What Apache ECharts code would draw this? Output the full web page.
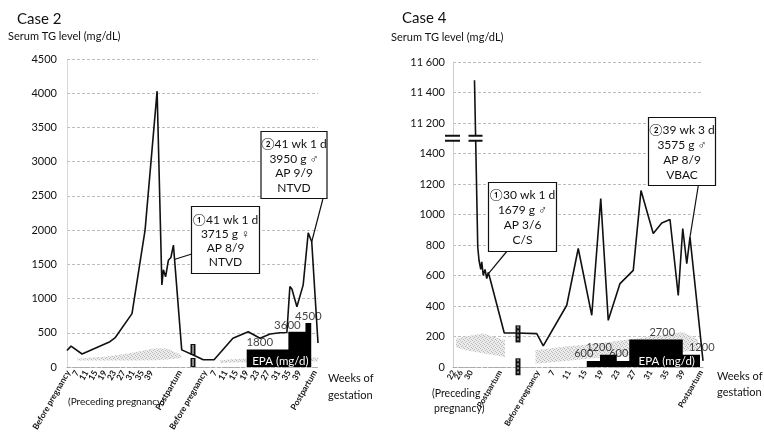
<!DOCTYPE html>
<html>
<head>
<meta charset="utf-8">
<title>Serum TG level - Case 2 / Case 4</title>
<script src="https://cdn.jsdelivr.net/npm/echarts@6/dist/echarts.min.js"></script>
<style>
  html, body { margin: 0; padding: 0; background: #fff; }
  #chart { width: 764px; height: 443px; }
</style>
</head>
<body>
<div id="chart"></div>
<script>
// ---------- Case 2 (left) : x = position on the visit axis (0..100) ----------
var case2X  = [0, 1.6, 6.0, 17.1, 19.1, 25.9, 31.1, 35.9, 37.8, 38.4, 39.3, 40.4, 41.4, 42.4, 45.7,
               50.3, 54.3, 58.6, 66.1, 72.2, 76.9, 80.9, 84.9, 87.6, 88.8, 89.6, 91.6, 94.1, 96.1, 97.5, 100];
var case2TG = [240, 305, 190, 370, 424, 780, 2000, 4030, 1200, 1420, 1320, 1560, 1600, 1780, 250,
               175, 105, 105, 420, 516, 420, 482, 500, 505, 1175, 1140, 880, 1200, 1960, 1830, 350];
var case2TickPos = [0.5, 4.0, 7.7, 11.4, 15.1, 18.8, 22.5, 26.2, 29.9, 33.6, 45,
                    55, 59, 63.2, 67.4, 71.6, 75.8, 80, 84.2, 88.4, 92.6, 98.8];
var case2TickLabels = ['Before pregnancy', '7', '11', '15', '19', '23', '27', '31', '35', '39', 'Postpartum',
                       'Before pregnancy', '7', '11', '15', '19', '23', '27', '31', '35', '39', 'Postpartum'];
// reference range band (lower / upper)
var case2BandX    = [4, 15, 25, 35, 40, 45.5];
var case2BandLow  = [95, 95, 95, 100, 110, 130];
var case2BandHigh = [125, 150, 200, 275, 270, 180];
var case2Band2X    = [61, 66, 72, 80, 90, 100];
var case2Band2Low  = [60, 65, 70, 75, 80, 80];
var case2Band2High = [100, 115, 125, 135, 140, 140];
// EPA dose (mg/d) steps
var case2EpaStart = [71.6, 88.2, 95.0];
var case2EpaEnd = 97.3;
var case2Epa = [1800, 3600, 4500];

// ---------- Case 4 (right) ----------
var case4X  = [8.6, 9.9, 10.4, 11.1, 11.5, 12.1, 12.8, 13.5, 14.1, 14.8, 20.5, 25.5, 33.5, 36.1, 45.5,
               50.1, 55.5, 59.1, 62.1, 66.8, 72.1, 75.2, 80.1, 83.5, 86.8, 90.1, 91.9, 93.5, 94.8, 100];
var case4TG = [11480, 787, 700, 640, 690, 600, 640, 580, 620, 580, 223, 223, 219, 138, 405,
               777, 339, 1104, 306, 547, 634, 1157, 875, 944, 967, 470, 908, 678, 852, 40];
var case4TickPos = [0.3, 3.2, 7.2, 18.8, 34, 40, 46.4, 52.8, 59.4, 66, 72.4, 79, 85.6, 92, 99.2];
var case4TickLabels = ['22', '26', '30', 'Postpartum', 'Before pregnancy', '7', '11', '15', '19',
                       '23', '27', '31', '35', '39', 'Postpartum'];
var case4BandX    = [1.2, 5, 12, 20.8];
var case4BandLow  = [130, 110, 90, 66];
var case4BandHigh = [186, 200, 220, 175];
var case4Band2X    = [33, 45, 55, 75, 92, 98];
var case4Band2Low  = [22, 40, 55, 80, 100, 110];
var case4Band2High = [110, 135, 150, 190, 230, 180];
var case4EpaStart = [53.5, 58.8, 65.5, 70.5, 91.9];
var case4EpaEnd = 98.8;
var case4Epa = [600, 1200, 600, 2700, 1200];

// broken TG axis of case 4: 1500..11100 is cut out
var BREAK_OFFSET = 9600;
function cutTG(v) { return v > 1500 ? v - BREAK_OFFSET : v; }

var FONT = 'Lato, "Open Sans", sans-serif';

// speckled grey fill for the reference band
var speckle = document.createElement('canvas');
speckle.width = speckle.height = 4;
(function () {
  var c = speckle.getContext('2d');
  c.fillStyle = '#e8e8e8'; c.fillRect(0, 0, 4, 4);
  c.fillStyle = '#b0b0b0';
  c.fillRect(0, 0, 1, 1); c.fillRect(2, 1, 1, 1); c.fillRect(1, 2, 1, 1); c.fillRect(3, 3, 1, 1);
})();

function pairs(xs, ys, f) {
  return xs.map(function (x, i) { return [x, f ? f(ys[i]) : ys[i]]; });
}
function stepData(starts, end, vals) {
  var d = starts.map(function (s, i) { return [s, vals[i]]; });
  d.push([end, vals[vals.length - 1]]);
  return d;
}
function bandSeries(gridIdx, xs, lo, hi) {
  return {
    type: 'custom',
    xAxisIndex: gridIdx, yAxisIndex: gridIdx * 2,
    data: xs.map(function (x, i) { return [x, lo[i], hi[i]]; }),
    z: 1, silent: true,
    renderItem: function (params, api) {
      if (params.dataIndex !== 0) return null;
      var pts = [];
      for (var i = 0; i < xs.length; i++) pts.push(api.coord([xs[i], hi[i]]));
      for (var j = xs.length - 1; j >= 0; j--) pts.push(api.coord([xs[j], lo[j]]));
      return { type: 'polygon', shape: { points: pts },
               style: { fill: { image: speckle, repeat: 'repeat' }, stroke: null, opacity: 0.85 } };
    }
  };
}
function epaLabelData(starts, vals, dx) {
  return starts.map(function (s, i) {
    return { value: [s, vals[i]], label: { offset: [dx[i], -7] } };
  });
}

var myChart = echarts.init(document.getElementById('chart'));

function xAxisFor(gridIdx, pos, labels, fontSize) {
  // blank labels at both ends keep echarts from dropping the real first/last ones
  var all = [0].concat(pos, [100]);
  var names = [''].concat(labels, ['']);
  return {
    type: 'value', gridIndex: gridIdx, min: 0, max: 100,
    axisLine: { show: true, lineStyle: { color: '#aaa', type: 'dashed', width: 1 } },
    axisTick: { show: false },
    splitLine: { show: false },
    axisLabel: {
      customValues: all, rotate: 60, margin: 4, fontSize: fontSize, fontWeight: 'bold',
      color: '#111', fontFamily: FONT, hideOverlap: false,
      formatter: function (v) {
        var best = 0;
        for (var i = 1; i < all.length; i++) if (Math.abs(all[i] - v) < Math.abs(all[best] - v)) best = i;
        return names[best];
      }
    }
  };
}
var splitStyle = { show: true, lineStyle: { color: '#bdbdbd', type: [3, 2], width: 1 } };
var yLineStyle = { show: true, lineStyle: { color: '#cfcfcf', type: 'dotted', width: 1 } };

var option = {
  animation: false,
  grid: [
    { left: 67, right: 446, top: 59, bottom: 76 },
    { left: 453, right: 61, top: 62, bottom: 76 }
  ],
  xAxis: [
    xAxisFor(0, case2TickPos, case2TickLabels, 8.5),
    xAxisFor(1, case4TickPos, case4TickLabels, 8)
  ],
  yAxis: [
    { type: 'value', gridIndex: 0, min: 0, max: 4500, interval: 500,
      axisLine: yLineStyle, axisTick: { show: false }, splitLine: splitStyle,
      axisLabel: { margin: 10, fontSize: 11, color: '#111', fontFamily: FONT,
        formatter: function (v) { return String(v); } } },
    { type: 'value', gridIndex: 0, min: 0, max: 4500 * 7, show: false, splitLine: { show: false } },
    { type: 'value', gridIndex: 1, min: 0, max: 2000, interval: 200,
      axisLine: { show: true, lineStyle: { color: '#cfcfcf', width: 1 } },
      axisTick: { show: false }, splitLine: splitStyle,
      axisLabel: { margin: 8, fontSize: 11, color: '#111', fontFamily: FONT,
        formatter: function (v) {
          if (v <= 1400) return String(v);
          if (v < 1600) return '';
          return String(v + BREAK_OFFSET).replace(/(\d)(?=\d{3}$)/, '$1 ');
        } } },
    { type: 'value', gridIndex: 1, min: 0, max: 2000 * 15, show: false, splitLine: { show: false } }
  ],
  series: [
    bandSeries(0, case2BandX, case2BandLow, case2BandHigh),
    bandSeries(0, case2Band2X, case2Band2Low, case2Band2High),
    bandSeries(1, case4BandX, case4BandLow, case4BandHigh),
    bandSeries(1, case4Band2X, case4Band2Low, case4Band2High),
    { name: 'EPA case 2', type: 'line', xAxisIndex: 0, yAxisIndex: 1, step: 'end', symbol: 'none',
      data: stepData(case2EpaStart, case2EpaEnd, case2Epa), z: 3,
      lineStyle: { width: 0 }, areaStyle: { color: '#000', opacity: 1 } },
    { name: 'EPA case 4', type: 'line', xAxisIndex: 1, yAxisIndex: 3, step: 'end', symbol: 'none',
      data: stepData(case4EpaStart, case4EpaEnd, case4Epa), z: 3,
      lineStyle: { width: 0 }, areaStyle: { color: '#000', opacity: 1 } },
    { name: 'EPA labels 2', type: 'scatter', xAxisIndex: 0, yAxisIndex: 1, symbolSize: 0, z: 4,
      data: epaLabelData(case2EpaStart, case2Epa, [13, -1, 3]),
      label: { show: true, position: 'inside', fontSize: 11.5, color: '#111', fontFamily: FONT,
               formatter: function (p) { return p.value[1]; } } },
    { name: 'EPA labels 4', type: 'scatter', xAxisIndex: 1, yAxisIndex: 3, symbolSize: 0, z: 4,
      data: epaLabelData(case4EpaStart, case4Epa, [-3, -1, 2, 33, 19]),
      label: { show: true, position: 'inside', fontSize: 11, color: '#111', fontFamily: FONT,
               formatter: function (p) { return p.value[1]; } } },
    { name: 'TG case 2', type: 'line', xAxisIndex: 0, yAxisIndex: 0, symbol: 'none', z: 5,
      data: pairs(case2X, case2TG), lineStyle: { color: '#111', width: 1.6 } },
    { name: 'TG case 4', type: 'line', xAxisIndex: 1, yAxisIndex: 2, symbol: 'none', z: 5,
      data: pairs(case4X, case4TG, cutTG), lineStyle: { color: '#111', width: 1.6 } }
  ]
};
myChart.setOption(option);

// ---------- texts, annotation boxes, break marks ----------
function px(grid, x, y, epa) {
  return myChart.convertToPixel({ xAxisIndex: grid, yAxisIndex: grid * 2 + (epa ? 1 : 0) }, [x, y]);
}
function txt(x, y, s, size, extra) {
  var st = { x: x, y: y, text: s, fontSize: size, fontFamily: FONT, fill: '#111',
             textVerticalAlign: 'middle' };
  for (var k in extra) st[k] = extra[k];
  return { type: 'text', style: st, z: 20 };
}
function box(x, y, w, h, lines, lh, target, from) {
  var tp = px(target[0], target[1], target[2]);
  return [
    { type: 'line', shape: { x1: from[0], y1: from[1], x2: tp[0], y2: tp[1] },
      style: { stroke: '#111', lineWidth: 1.2 }, z: 18 },
    { type: 'rect', shape: { x: x, y: y, width: w, height: h },
      style: { fill: '#fff', stroke: '#111', lineWidth: 1.2 }, z: 19 },
    { type: 'text', z: 20, style: { x: x + w / 2, y: y + h / 2 + 1, text: lines.join('\n'),
      fontSize: 12, lineHeight: lh, fontFamily: FONT, fill: '#111',
      textAlign: 'center', textVerticalAlign: 'middle' } }
  ];
}
function vBreak(grid, x, lo, hi, dashed) {
  var a = px(grid, x, hi), b = px(grid, x, lo);
  var inner = { stroke: '#fff', lineWidth: 1 };
  if (dashed) inner.lineDash = [2, 2];
  return [
    { type: 'rect', z: 15, shape: { x: a[0] - 2.5, y: a[1], width: 5, height: b[1] - a[1] },
      style: { fill: '#111' } },
    { type: 'line', z: 16, shape: { x1: a[0], y1: a[1] + 1, x2: a[0], y2: b[1] - 1 }, style: inner }
  ];
}
function hBreak(cx, cy, w) {
  return [
    { type: 'rect', z: 15, shape: { x: cx - w / 2, y: cy - 2.5, width: w, height: 5 },
      style: { fill: '#fff' } },
    { type: 'line', z: 16, shape: { x1: cx - w / 2, y1: cy - 2.5, x2: cx + w / 2, y2: cy - 2.5 },
      style: { stroke: '#111', lineWidth: 2 } },
    { type: 'line', z: 16, shape: { x1: cx - w / 2, y1: cy + 2.5, x2: cx + w / 2, y2: cy + 2.5 },
      style: { stroke: '#111', lineWidth: 2 } }
  ];
}

var g = [];
g.push(txt(17, 19, 'Case 2', 15));
g.push(txt(8, 36, 'Serum TG level (mg/dL)', 11));
g.push(txt(402, 18, 'Case 4', 15));
g.push(txt(391, 37, 'Serum TG level (mg/dL)', 11));
g.push(txt(328, 378, 'Weeks of', 11));
g.push(txt(328, 395, 'gestation', 11));
g.push(txt(717, 376, 'Weeks of', 11));
g.push(txt(717, 392, 'gestation', 11));
g.push(txt(68, 402, '(Preceding pregnancy)', 10));
g.push(txt(432, 394, '(Preceding', 10.5));
g.push(txt(434, 409, 'pregnancy)', 10.5));

// white "EPA (mg/d)" captions on the dose bars
var e2 = px(0, case2EpaStart[1], 0);
g.push(txt(e2[0] - 8, e2[1] - 6, 'EPA (mg/d)', 11.5, { fill: '#fff', textAlign: 'center' }));
var e4 = px(1, case4EpaStart[4], 0);
g.push(txt(e4[0] - 16, e4[1] - 6, 'EPA (mg/d)', 11.5, { fill: '#fff', textAlign: 'center' }));

g = g.concat(box(191.5, 206.5, 68, 67, ['\u246041 wk 1 d', '3715 g \u2640', 'AP 8/9', 'NTVD'], 14,
                 [0, 42.7, 1570], [191.7, 254]));
g = g.concat(box(261, 131.5, 66, 67, ['\u246141 wk 1 d', '3950 g \u2642', 'AP 9/9', 'NTVD'], 14.5,
                 [0, 97.5, 1830], [323, 198.5]));
g = g.concat(box(488.5, 182.5, 68, 69, ['\u246030 wk 1 d', '1679 g \u2642', 'AP 3/6', 'C/S'], 15,
                 [1, 14.1, 610], [506.7, 251.5]));
g = g.concat(box(648.5, 117.5, 67, 68, ['\u246139 wk 3 d', '3575 g \u2642', 'AP 8/9', 'VBAC'], 15,
                 [1, 94.8, 852], [698.3, 185.5]));

g = g.concat(vBreak(0, 50.2, 175, 336, false));
g = g.concat(vBreak(0, 50.2, 0, 132, false));
g = g.concat(vBreak(1, 26, 161, 273, true));
g = g.concat(vBreak(1, 26, -54, 57, true));
var yb = px(1, 0, 1500);
g = g.concat(hBreak(yb[0] - 0.5, yb[1], 15));
var lb = px(1, 9.0, 1500);
g = g.concat(hBreak(lb[0], lb[1], 14));

myChart.setOption({ graphic: g });
</script>
</body>
</html>
